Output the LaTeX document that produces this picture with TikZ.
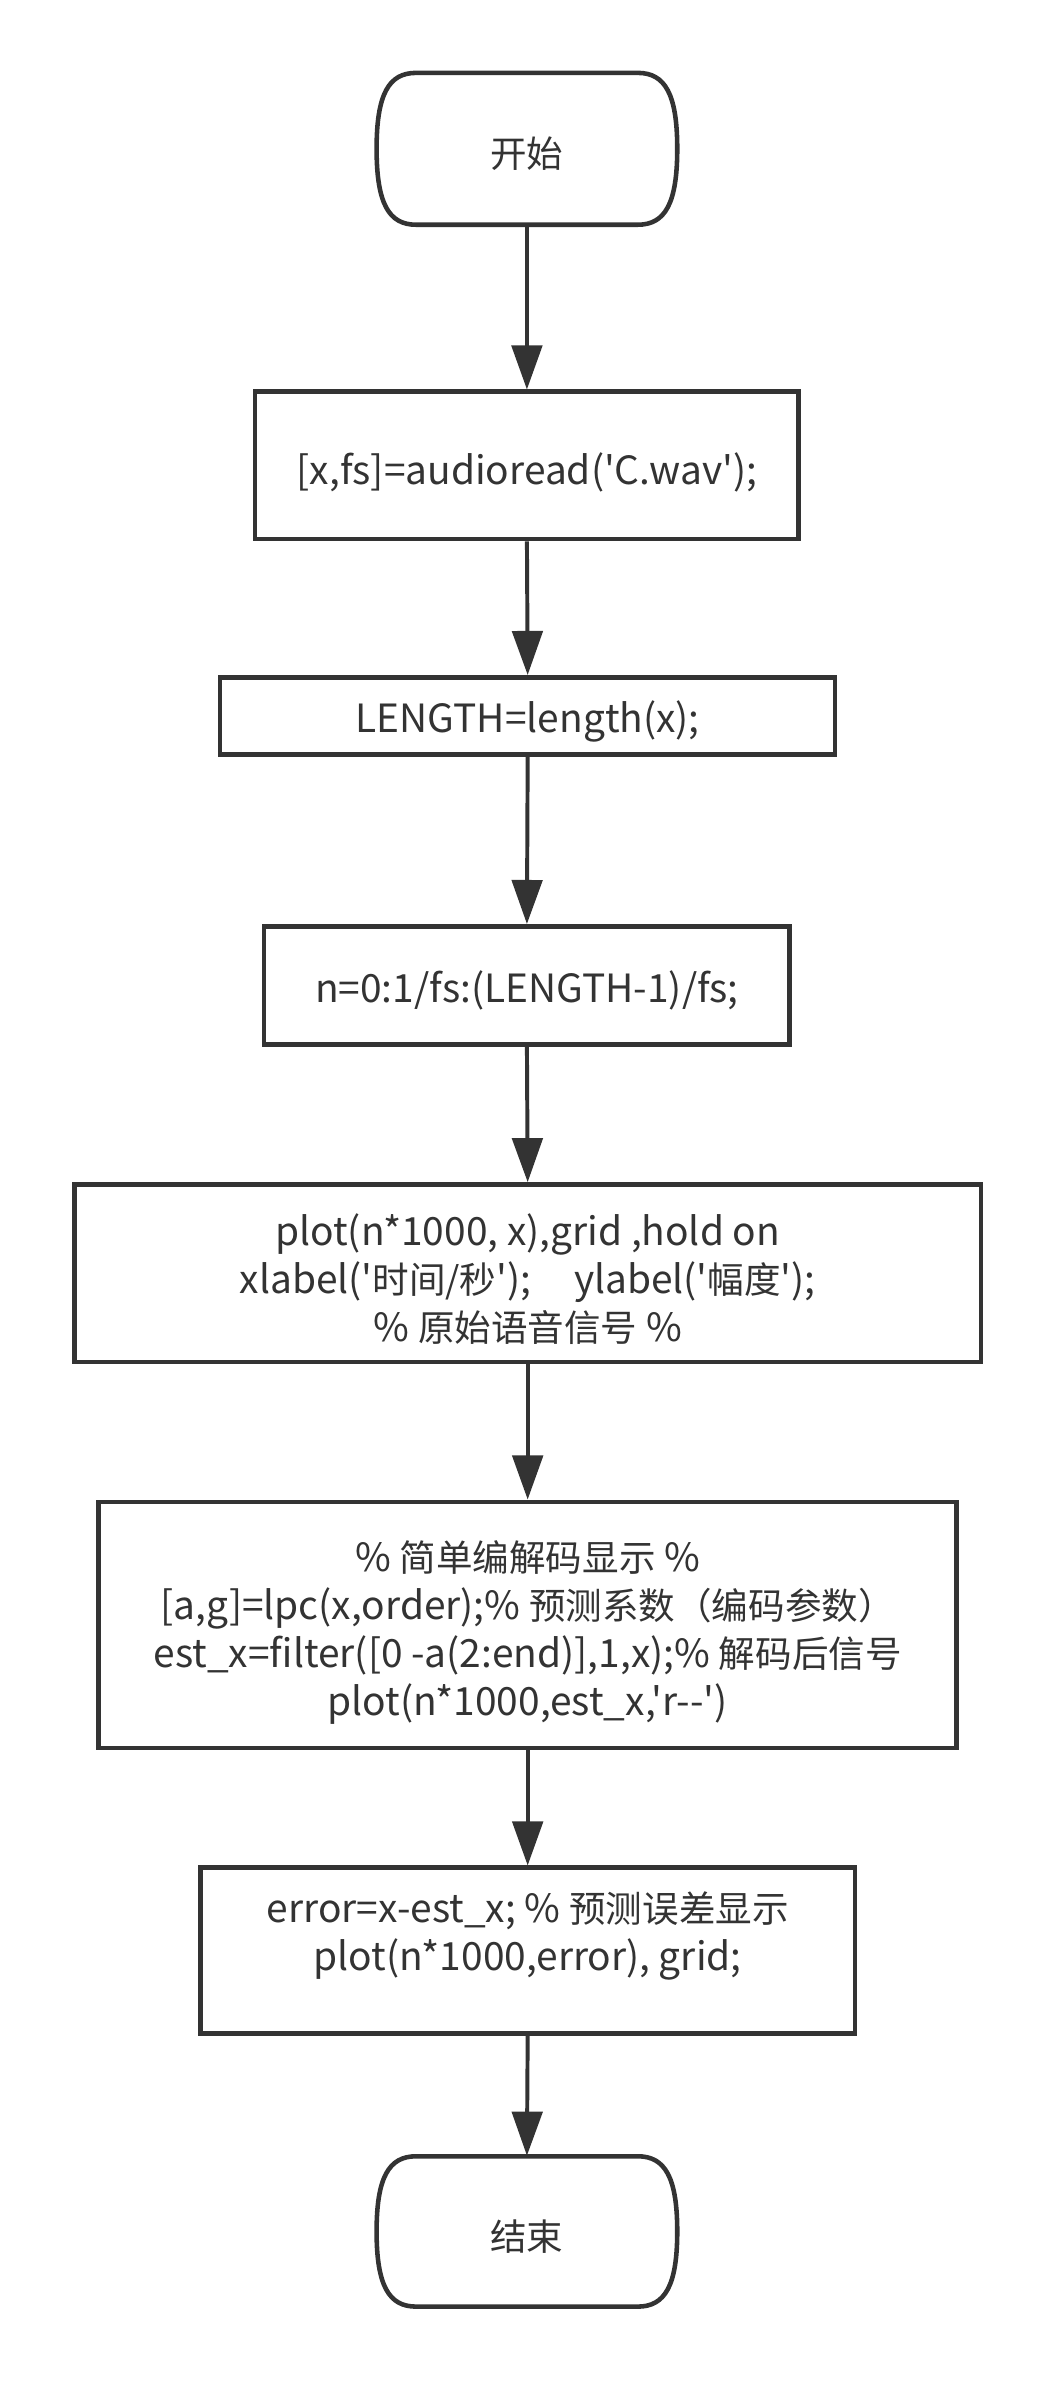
\documentclass[tikz,border=0pt]{standalone}
\usepackage{fontspec}
\newfontfamily\myfont{Noto Sans CJK SC}
\newfontfamily\cj{Noto Sans CJK SC}[Scale=0.94]
\usetikzlibrary{arrows.meta}
\definecolor{ink}{HTML}{333333}
\begin{document}
\begin{tikzpicture}[x=0.5pt,y=-0.5pt,
  txt/.style={font=\myfont\fontsize{12.8pt}{15.8pt}\selectfont, text=ink, align=center, inner sep=0pt},
  proc/.style={draw=ink, line width=1.5pt, fill=white, inner sep=0pt},
  termnode/.style={draw=none, minimum width=99pt, minimum height=50pt, inner sep=0pt},
  outline/.style={draw=ink, line width=1.5pt, line join=round},
  flow/.style={draw=ink, line width=1.3pt, -{Triangle[length=14.5pt,width=10pt]}}
]
\useasboundingbox[fill=white] (0,0) rectangle (695.4,1568);

% start terminator
\draw[outline] (274,48) -- (420,48) .. controls (438,48) and (446,62) .. (446,98)
  .. controls (446,134) and (438,148) .. (420,148) -- (274,148)
  .. controls (256,148) and (248,134) .. (248,98)
  .. controls (248,62) and (256,48) .. (274,48) -- cycle;
\node[termnode] (start) at (347,98) {};
\node[txt] (startt) at (347,101) {\cj 开始};

\node[proc, minimum width=179pt, minimum height=48.5pt] (b1) at (347,306.5) {};
\node[txt] (b1t) at (347,311) {[x,fs]=audioread('C.wav');};
\node[proc, minimum width=202.5pt, minimum height=25.5pt] (b2) at (347.5,471.5) {};
\node[txt] (b2t) at (347.5,475) {LENGTH=length(x);};
\node[proc, minimum width=173pt, minimum height=39pt] (b3) at (347,649) {};
\node[txt] (b3t) at (347,652) {n=0:1/fs:(LENGTH-1)/fs;};
\node[proc, minimum width=298.5pt, minimum height=58.5pt] (b4) at (347.5,838.5) {};
\node[txt] (b4t) at (347.5,842.5)
  {plot(n*1000, x),grid ,hold on\\xlabel('{\cj 时间/秒}');\hspace{1.1em}ylabel('{\cj 幅度}');\\\% {\cj 原始语音信号} \%};
\node[proc, minimum width=282.5pt, minimum height=81pt] (b5) at (347.5,1070) {};
\node[txt] (b5t) at (347.5,1075)
  {\% {\cj 简单编解码显示} \%\\{[}a,g]=lpc(x,order);\% {\cj 预测系数（编码参数）}\\est\_x=filter([0 -a(2:end)],1,x);\% {\cj 解码后信号}\\plot(n*1000,est\_x,'r--')};
\node[proc, minimum width=215.5pt, minimum height=54.5pt] (b6) at (347.5,1284.5) {};
\node[txt] (b6t) at (347.5,1275) {error=x-est\_x; \% {\cj 预测误差显示}\\plot(n*1000,error), grid;};

% end terminator
\draw[outline] (274,1420) -- (420,1420) .. controls (438,1420) and (446,1434) .. (446,1469.5)
  .. controls (446,1505) and (438,1519) .. (420,1519) -- (274,1519)
  .. controls (256,1519) and (248,1505) .. (248,1469.5)
  .. controls (248,1434) and (256,1420) .. (274,1420) -- cycle;
\node[termnode, minimum height=49.5pt] (stop) at (347,1469.5) {};
\node[txt] (stopt) at (347,1473) {\cj 结束};

\draw[flow] (start.south) -- (b1.north);
\draw[flow] (b1.south) -- (b2.north);
\draw[flow] (b2.south) -- (b3.north);
\draw[flow] (b3.south) -- (b4.north);
\draw[flow] (b4.south) -- (b5.north);
\draw[flow] (b5.south) -- (b6.north);
\draw[flow] (b6.south) -- (stop.north);
\end{tikzpicture}
\end{document}
